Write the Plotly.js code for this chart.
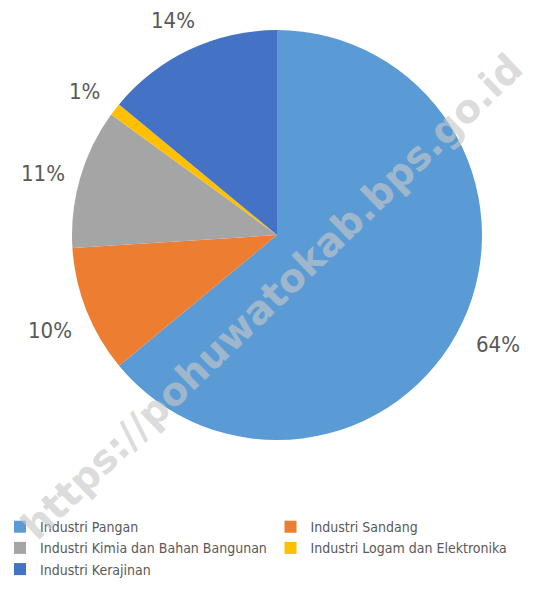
<!DOCTYPE html>
<html><head><meta charset="utf-8">
<script src="https://cdn.plot.ly/plotly-3.0.1.min.js"></script>
<style>html,body{margin:0;padding:0;background:#fff}</style>
</head><body><div id="chart" style="width:541px;height:602px"></div>
<script>
const categories = ["Industri Pangan","Industri Sandang","Industri Kimia dan Bahan Bangunan","Industri Logam dan Elektronika","Industri Kerajinan"];
const values = [64, 10, 11, 1, 14];
const colors = ["#5B9BD5","#ED7D31","#A5A5A5","#FFC000","#4472C4"];
const labelText = ["64%","10%","11%","1%","14%"];

const W = 541, H = 602;
const dom = {x:[0.129,0.895], y:[0.269,0.950]};
const cx = (dom.x[0]+dom.x[1])/2, cy = (dom.y[0]+dom.y[1])/2;
const Rpx = Math.min((dom.x[1]-dom.x[0])*W, (dom.y[1]-dom.y[0])*H)/2;
const total = values.reduce((a,b)=>a+b,0);
const FONT = "'DejaVu Sans Condensed', 'Liberation Sans Narrow', sans-serif";
const annotations = [];
annotations.push({xref:'paper',yref:'paper',x:0.503,y:0.507,xanchor:'center',yanchor:'middle',text:'https://pohuwatokab.bps.go.id',
  showarrow:false,textangle:-44,font:{family:'DejaVu Sans, sans-serif',size:39,weight:'bold',color:'rgba(200,200,200,0.65)'}});
let cum = 0;
values.forEach((v,i)=>{
  const mid = (cum + v/2)/total*2*Math.PI; cum += v;
  const r = Rpx*1.19;
  annotations.push({xref:'paper',yref:'paper',xanchor:'center',yanchor:'middle',
    x:cx + r*Math.sin(mid)/W, y:cy + r*Math.cos(mid)/H - 0.01,
    text:labelText[i], showarrow:false, font:{family:FONT,size:22,color:'#595959'}});
});

Plotly.newPlot('chart',[{
  type:'pie', labels:categories, values:values, sort:false, direction:'clockwise', rotation:0,
  marker:{colors:colors, line:{width:0}}, textinfo:'none', hoverinfo:'label+percent',
  domain:dom
}],{
  width:W,height:H,margin:{l:0,r:0,t:0,b:0},paper_bgcolor:'#fff',
  showlegend:true,
  legend:{orientation:'h',x:0,xanchor:'left',y:0.151,yanchor:'top',entrywidth:0.5,entrywidthmode:'fraction',
    font:{family:FONT,size:14,color:'#595959'},tracegroupgap:0},
  annotations:annotations
},{displayModeBar:false,staticPlot:true});
</script></body></html>
